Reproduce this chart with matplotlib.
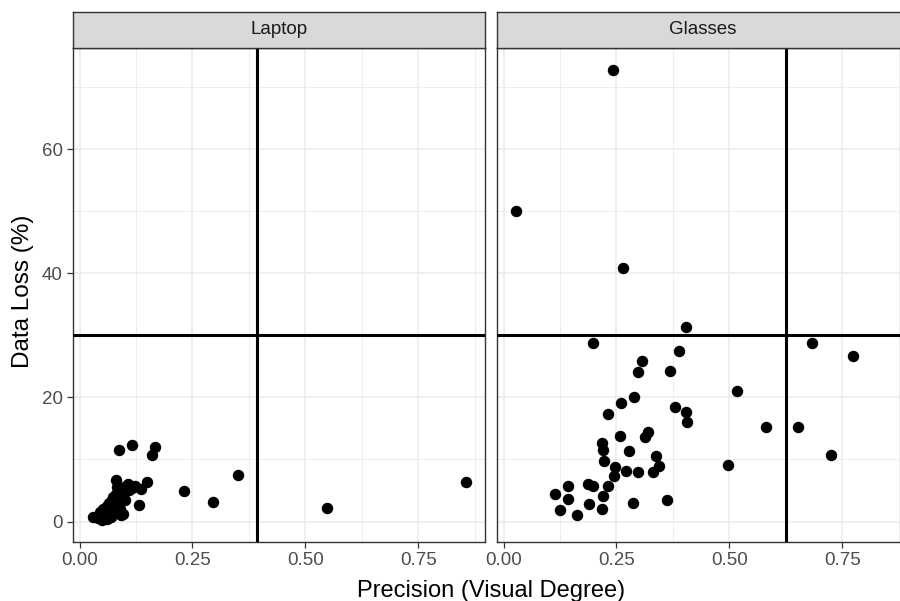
import matplotlib
matplotlib.use("Agg")
import matplotlib.pyplot as plt

plt.rcParams["font.family"] = ["Liberation Sans", "DejaVu Sans"]

# Laptop panel
laptop_x = [0.087, 0.117, 0.167, 0.161, 0.350, 0.231, 0.296, 0.132, 0.149, 0.081,
            0.135, 0.092, 0.547, 0.856, 0.096, 0.122, 0.108,
            0.030, 0.040, 0.045, 0.050, 0.052, 0.055, 0.058, 0.060, 0.062, 0.065,
            0.066, 0.068, 0.070, 0.072, 0.074, 0.075, 0.078, 0.080, 0.082, 0.083,
            0.085, 0.088, 0.090, 0.092, 0.095, 0.098, 0.100, 0.105, 0.110, 0.115,
            0.060, 0.070, 0.050]
laptop_y = [11.5, 12.3, 12.0, 10.7, 7.5, 4.9, 3.2, 2.6, 6.4, 6.7,
            5.2, 1.0, 2.1, 6.4, 1.2, 5.7, 6.0,
            0.8, 0.5, 1.5, 0.3, 2.0, 1.0, 1.8, 2.5, 0.6, 1.5,
            3.0, 2.2, 1.2, 3.5, 2.8, 4.0, 3.2, 4.5, 2.5, 5.5,
            3.8, 4.8, 2.0, 5.0, 4.2, 5.6, 3.5, 5.3, 5.0, 5.4,
            0.4, 0.8, 1.0]

# Glasses panel
glasses_x = [0.028, 0.243, 0.265, 0.403, 0.199, 0.388, 0.307, 0.297, 0.369, 0.288,
             0.261, 0.231, 0.380, 0.403, 0.406, 0.257, 0.319, 0.313, 0.218, 0.220,
             0.277, 0.337, 0.223, 0.343, 0.246, 0.272, 0.330, 0.297, 0.245, 0.232,
             0.188, 0.199, 0.143, 0.114, 0.142, 0.220, 0.190, 0.217, 0.126, 0.163,
             0.287, 0.361, 0.517, 0.582, 0.652, 0.497, 0.682, 0.774, 0.724]
glasses_y = [50.0, 72.7, 40.9, 31.4, 28.8, 27.5, 25.9, 24.1, 24.2, 20.1,
             19.1, 17.4, 18.5, 17.6, 16.0, 13.7, 14.4, 13.6, 12.7, 11.6,
             11.3, 10.6, 9.7, 9.0, 8.8, 8.2, 8.0, 7.9, 7.4, 5.7,
             6.0, 5.7, 5.7, 4.4, 3.6, 4.1, 2.9, 2.0, 1.9, 1.1,
             3.0, 3.5, 21.0, 15.3, 15.3, 9.1, 28.7, 26.6, 10.7]

panels = ["Laptop", "Glasses"]
panel_x = [laptop_x, glasses_x]
panel_y = [laptop_y, glasses_y]
vlines = [0.393, 0.625]
hline = 30

xticks = [0.0, 0.25, 0.5, 0.75]
xtick_labels = ["0.00", "0.25", "0.50", "0.75"]
yticks = [0, 20, 40, 60]

fig = plt.figure(figsize=(9, 6.01), dpi=100)

W, H = 900, 601
lefts = [73, 497]
pw = 412
top, bottom = 48, 542
strip_top = 12

for i, name in enumerate(panels):
    ax = fig.add_axes([lefts[i] / W, 1 - bottom / H, pw / W, (bottom - top) / H])
    ax.set_xlim(-0.0145, 0.8975)
    ax.set_ylim(-3.3, 76.3)
    ax.set_xticks(xticks)
    ax.set_xticklabels(xtick_labels)
    ax.set_yticks(yticks)
    ax.set_xticks([0.125, 0.375, 0.625, 0.875], minor=True)
    ax.set_yticks([10, 30, 50, 70], minor=True)
    ax.grid(True, which="major", color="#EBEBEB", lw=1.1)
    ax.grid(True, which="minor", color="#EBEBEB", lw=0.6)
    ax.set_axisbelow(True)
    ax.tick_params(which="minor", length=0)
    ax.tick_params(which="major", length=4.3, width=0.9, color="#333333",
                   labelsize=13.5, labelcolor="#4D4D4D", pad=3)
    if i > 0:
        ax.tick_params(axis="y", left=False, labelleft=False)
    for s in ax.spines.values():
        s.set_color("#333333")
        s.set_linewidth(1.0)

    ax.scatter(panel_x[i], panel_y[i], s=68, color="black", zorder=3, linewidths=0)
    ax.axhline(hline, color="black", lw=2.2, zorder=4)
    ax.axvline(vlines[i], color="black", lw=2.2, zorder=4)

    # strip on top
    st = fig.add_axes([lefts[i] / W, 1 - top / H, pw / W, (top - strip_top) / H])
    st.set_facecolor("#D9D9D9")
    st.set_xticks([])
    st.set_yticks([])
    for s in st.spines.values():
        s.set_color("#333333")
        s.set_linewidth(1.0)
    st.text(0.5, 0.5, name, ha="center", va="center", fontsize=13.5,
            color="#1A1A1A", transform=st.transAxes)

fig.text(491 / W, 1 - 597.5 / H, "Precision (Visual Degree)", ha="center",
         va="baseline", fontsize=17)
fig.text(23 / W, 1 - 291.5 / H, "Data Loss (%)", ha="center", va="center",
         rotation=90, fontsize=17.5)

plt.savefig("out.png", dpi=100)
plt.close()
